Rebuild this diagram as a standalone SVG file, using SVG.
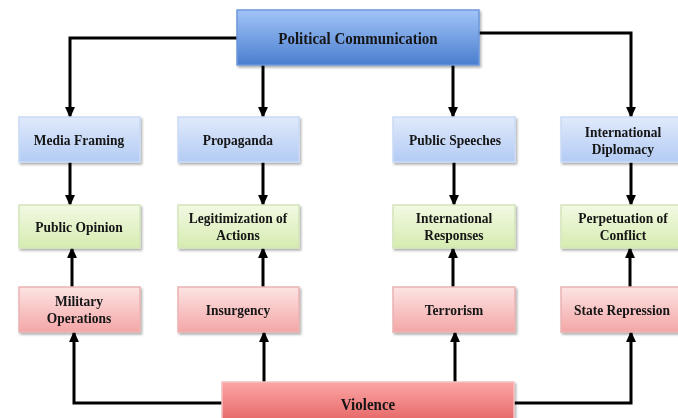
<svg xmlns="http://www.w3.org/2000/svg" width="678" height="418" viewBox="0 0 678 418">
<defs>
<linearGradient id="gTop" x1="0" y1="0" x2="0" y2="1"><stop offset="0" stop-color="#a2c4f8"/><stop offset="1" stop-color="#4a7ecf"/></linearGradient>
<linearGradient id="gBlue" x1="0" y1="0" x2="0" y2="1"><stop offset="0" stop-color="#e0eafb"/><stop offset="1" stop-color="#b3cbf4"/></linearGradient>
<linearGradient id="gGreen" x1="0" y1="0" x2="0" y2="1"><stop offset="0" stop-color="#f2f9e3"/><stop offset="1" stop-color="#d6ecb0"/></linearGradient>
<linearGradient id="gPink" x1="0" y1="0" x2="0" y2="1"><stop offset="0" stop-color="#fde4e4"/><stop offset="1" stop-color="#f4a6a6"/></linearGradient>
<linearGradient id="gRed" x1="0" y1="0" x2="0" y2="1"><stop offset="0" stop-color="#fda6a6"/><stop offset="1" stop-color="#e05656"/></linearGradient>
<filter id="sh" x="-10%" y="-20%" width="130%" height="150%"><feDropShadow dx="1.5" dy="2" stdDeviation="1.2" flood-color="#000" flood-opacity="0.3"/></filter>
<marker id="ah" markerUnits="userSpaceOnUse" markerWidth="11" markerHeight="11" viewBox="0 0 10 10" refX="9" refY="5" orient="auto"><path d="M0,0.5 L10,5 L0,9.5 Z" fill="#000"/></marker>
</defs>
<style>
text{font-family:"Liberation Serif","Times New Roman",serif;font-weight:bold;fill:#141414;text-anchor:middle;font-size:13.5px;transform-box:fill-box;transform-origin:center;transform:scaleY(1.12)}
.big{font-size:15px}
.top{fill:url(#gTop);stroke:#6d97da;stroke-width:1.5}
.blue{fill:url(#gBlue);stroke:#c9daf5;stroke-width:1.5}
.green{fill:url(#gGreen);stroke:#d3e5bc;stroke-width:1.5}
.pink{fill:url(#gPink);stroke:#eab3b3;stroke-width:1.5}
.red{fill:url(#gRed);stroke:#f3c0c0;stroke-width:1.5}
.box{filter:url(#sh)}
.c{fill:none;stroke:#000;stroke-width:3;marker-end:url(#ah)}
</style>
<rect width="678" height="418" fill="#fff"/>
<g id="connectors">
<path class="c" d="M237,38 H70 V117"/>
<path class="c" d="M263,65 V117"/>
<path class="c" d="M453,65 V117"/>
<path class="c" d="M479,33 H631 V117"/>
<path class="c" d="M70,162 V205"/>
<path class="c" d="M263,162 V205"/>
<path class="c" d="M454,162 V205"/>
<path class="c" d="M631,162 V205"/>
<path class="c" d="M72,287 V248"/>
<path class="c" d="M263,287 V248"/>
<path class="c" d="M453,287 V248"/>
<path class="c" d="M630,287 V248"/>
<path class="c" d="M222,403 H74 V332"/>
<path class="c" d="M264,382 V332"/>
<path class="c" d="M455,382 V332"/>
<path class="c" d="M514,403 H631 V332"/>
</g>
<g id="political-communication" class="box"><rect class="top" x="237" y="10" width="242" height="55"/><text class="big" x="358" y="43">Political Communication</text></g>
<g id="media-framing" class="box"><rect class="blue" x="19" y="117" width="121" height="45"/><text x="79" y="144.5">Media Framing</text></g>
<g id="propaganda" class="box"><rect class="blue" x="178" y="117" width="121" height="45"/><text x="238" y="144.5">Propaganda</text></g>
<g id="public-speeches" class="box"><rect class="blue" x="393" y="117" width="122" height="45"/><text x="455" y="144.5">Public Speeches</text></g>
<g id="international-diplomacy" class="box"><rect class="blue" x="561" y="117" width="124" height="45"/><text x="623" y="136.5">International</text><text x="623" y="153.5">Diplomacy</text></g>
<g id="public-opinion" class="box"><rect class="green" x="19" y="205" width="121" height="43"/><text x="79" y="231.5">Public Opinion</text></g>
<g id="legitimization-of-actions" class="box"><rect class="green" x="178" y="205" width="121" height="43"/><text x="238" y="222.5">Legitimization of</text><text x="238" y="239.5">Actions</text></g>
<g id="international-responses" class="box"><rect class="green" x="393" y="205" width="122" height="43"/><text x="454" y="222.5">International</text><text x="454" y="239.5">Responses</text></g>
<g id="perpetuation-of-conflict" class="box"><rect class="green" x="561" y="205" width="124" height="43"/><text x="623" y="222.5">Perpetuation of</text><text x="623" y="239.5">Conflict</text></g>
<g id="military-operations" class="box"><rect class="pink" x="19" y="287" width="121" height="45"/><text x="79" y="305.5">Military</text><text x="79" y="322.5">Operations</text></g>
<g id="insurgency" class="box"><rect class="pink" x="178" y="287" width="121" height="45"/><text x="238" y="314.5">Insurgency</text></g>
<g id="terrorism" class="box"><rect class="pink" x="393" y="287" width="122" height="45"/><text x="454" y="314.5">Terrorism</text></g>
<g id="state-repression" class="box"><rect class="pink" x="561" y="287" width="124" height="45"/><text x="622" y="314.5">State Repression</text></g>
<g id="violence" class="box"><rect class="red" x="222" y="382" width="292" height="50"/><text class="big" x="368" y="409">Violence</text></g>
</svg>
